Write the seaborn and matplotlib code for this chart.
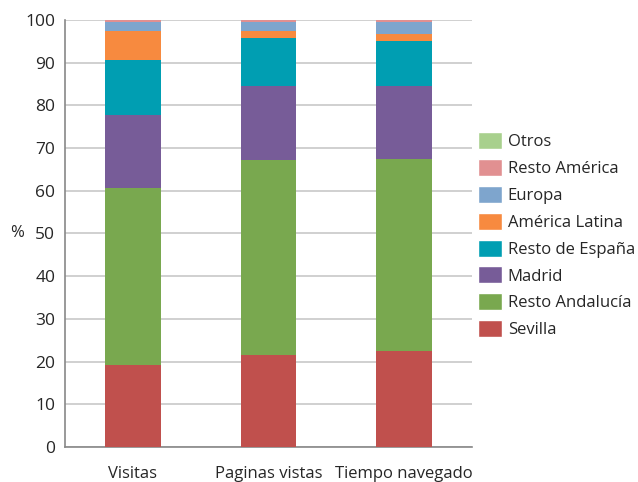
import numpy as np
import pandas as pd
import matplotlib.pyplot as plt
import seaborn as sns
from matplotlib.patches import Patch

# Datos (porcentajes)
categorias = ['Visitas', 'Paginas vistas', 'Tiempo navegado']
series = ['Sevilla', 'Resto Andalucía', 'Madrid', 'Resto de España',
          'América Latina', 'Europa', 'Resto América', 'Otros']
sevilla = [19.2, 21.6, 22.4]
resto_andalucia = [41.5, 45.7, 45.1]
madrid = [17.0, 17.2, 17.0]
resto_espana = [12.9, 11.3, 10.6]
america_latina = [6.7, 1.6, 1.7]
europa = [2.2, 2.1, 2.7]
resto_america = [0.4, 0.4, 0.4]
otros = [0.1, 0.1, 0.1]

colores = ['#C0504D', '#79A84F', '#775C98', '#009EB2',
           '#F78A3F', '#7EA5CD', '#E19091', '#A8D08D']

valores = np.array([sevilla, resto_andalucia, madrid, resto_espana,
                    america_latina, europa, resto_america, otros])
acumulado = np.cumsum(valores, axis=0)

sns.set_style('white')
plt.rcParams['font.family'] = ['Open Sans', 'DejaVu Sans']

fig = plt.figure(figsize=(6.38, 4.82), dpi=100)
ax = fig.add_axes([0.102, 0.0726, 0.638, 0.886])

# barras apiladas: dibujar de arriba hacia abajo
for i in range(len(series) - 1, -1, -1):
    df = pd.DataFrame({'cat': categorias, 'val': acumulado[i]})
    sns.barplot(data=df, x='cat', y='val', color=colores[i], width=0.41,
                saturation=1, ax=ax, zorder=3, linewidth=0, edgecolor='none')

ax.set_ylim(0, 100)
ax.set_xlim(-0.5, 2.5)
ax.set_yticks(range(0, 101, 10))
ax.yaxis.grid(True, color='#C8C8C8', linewidth=1.2, zorder=0)
ax.set_axisbelow(True)
ax.set_xlabel('')
ax.set_ylabel('%', rotation=0, fontsize=12, labelpad=6, va='center')
ax.tick_params(axis='y', labelsize=12.5, length=5, width=1, color='#888888', pad=2)
ax.tick_params(axis='x', which='major', length=0, labelsize=12, pad=14)
ax.set_xticks([-0.5, 0.5, 1.5, 2.5], minor=True)
ax.tick_params(axis='x', which='minor', length=5, width=1, color='#888888')
for s in ['top', 'right']:
    ax.spines[s].set_visible(False)
for s in ['left', 'bottom']:
    ax.spines[s].set_color('#888888')
    ax.spines[s].set_linewidth(1.2)

handles = [Patch(facecolor=colores[i], label=series[i]) for i in range(len(series) - 1, -1, -1)]
fig.legend(handles=handles, loc='center left', bbox_to_anchor=(0.749, 0.512),
           frameon=False, fontsize=12, handlelength=1.45, handleheight=1.2,
           handletextpad=0.35, labelspacing=0.52, borderpad=0, borderaxespad=0)

plt.savefig('out.png', dpi=100)
